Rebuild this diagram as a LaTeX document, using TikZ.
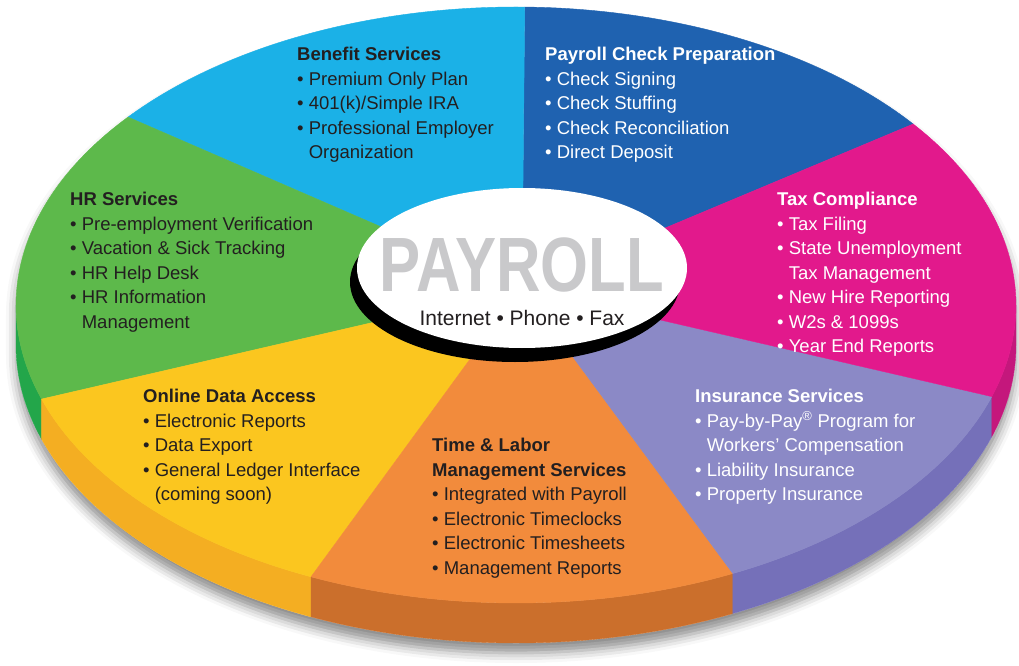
\documentclass[tikz,border=0pt]{standalone}
\usepackage{fontspec}
\setmainfont{Liberation Sans}
\newfontfamily\condfont[FakeStretch=0.8]{Liberation Sans}
\usetikzlibrary{shadows.blur}

% top faces
\definecolor{benefit}{HTML}{1BB1E7}
\definecolor{payroll}{HTML}{1F62B0}
\definecolor{tax}{HTML}{E2198C}
\definecolor{insurance}{HTML}{8B89C6}
\definecolor{timelabor}{HTML}{F28B3C}
\definecolor{online}{HTML}{FBC61F}
\definecolor{hr}{HTML}{5DB94B}
% rim
\definecolor{hrside}{HTML}{23A64A}
\definecolor{onlineside}{HTML}{F4AE22}
\definecolor{timeside}{HTML}{CB6F2C}
\definecolor{insside}{HTML}{7570B9}
\definecolor{taxside}{HTML}{C4177C}
\definecolor{ink}{HTML}{231F20}
\definecolor{logo}{HTML}{C9C9CB}

\newcommand{\itm}{\textbullet\ }
\newcommand{\indentitem}{\hphantom{\textbullet\ }}

\begin{document}
\begin{tikzpicture}
	[x=1pt,y=1pt,
	 every node/.style={inner sep=0pt,align=left,anchor=north west,
	   font=\fontsize{18.5}{24.5}\selectfont},
	 dark/.style={text=ink},
	 light/.style={text=white}]
	\useasboundingbox (0,0) rectangle (1019,665);
	% soft shadow under the whole disk
	\fill[white,blur shadow={shadow xshift=0pt,shadow yshift=-10pt,shadow blur radius=10pt,shadow opacity=45}]
	  ([shift={(516,360)}]0:500 and 298) arc[start angle=0,end angle=180,x radius=500,y radius=298]
	  -- ++(0,-40) arc[start angle=180,end angle=360,x radius=500,y radius=298] -- cycle;
	% rim
	\foreach \from/\to/\col in {180/198.4/hrside,198.4/245.8/onlineside,245.8/295.7/timeside,295.7/342.1/insside,342.1/360/taxside}
	\fill[\col,draw=\col,line width=0.4pt] ([shift={(516,360)}]\from:500 and 298) arc[start angle=\from,end angle=\to,x radius=500,y radius=298]
	  -- ++(0,-40) arc[start angle=\to,end angle=\from,x radius=500,y radius=298] -- cycle;
	% slices
	\foreach \from/\to/\col in {37.4/89/payroll,89/140.9/benefit,140.9/198.4/hr,198.4/245.8/online,245.8/295.7/timelabor,295.7/342.1/insurance,342.1/397.4/tax}
	\fill[\col,draw=\col,line width=0.4pt] (522,377) -- ([shift={(516,360)}]\from:500 and 298)
	  arc[start angle=\from,end angle=\to,x radius=500,y radius=298] -- cycle;
	% hub
	\fill[black] (515,383) ellipse[x radius=165,y radius=80];
	\fill[white] (522,397) ellipse[x radius=165,y radius=80];
	\node[anchor=center,text=logo] (logo) at (522,400) {\condfont\bfseries\fontsize{77}{77}\selectfont PAYROLL};
	\node[anchor=center,dark] (media) at (522,347) {\fontsize{21}{21}\selectfont Internet \textbullet{} Phone \textbullet{} Fax};
	% services
	\node[dark] (benefit) at (297,618) {\textbf{Benefit Services}\\ \itm Premium Only Plan\\ \itm 401(k)/Simple IRA\\ \itm Professional Employer\\ \indentitem Organization};
	\node[light] (payroll) at (545,618) {\textbf{Payroll Check Preparation}\\ \itm Check Signing\\ \itm Check Stuffing\\ \itm Check Reconciliation\\ \itm Direct Deposit};
	\node[light] (tax) at (777,473) {\textbf{Tax Compliance}\\ \itm Tax Filing\\ \itm State Unemployment\\ \indentitem Tax Management\\ \itm New Hire Reporting\\ \itm W2s \& 1099s\\ \itm Year End Reports};
	\node[dark] (hr) at (70,473) {\textbf{HR Services}\\ \itm Pre-employment Verification\\ \itm Vacation \& Sick Tracking\\ \itm HR Help Desk\\ \itm HR Information\\ \indentitem Management};
	\node[dark] (online) at (143,276) {\textbf{Online Data Access}\\ \itm Electronic Reports\\ \itm Data Export\\ \itm General Ledger Interface\\ \indentitem (coming soon)};
	\node[dark] (timelabor) at (432,227) {\textbf{Time \& Labor}\\ \textbf{Management Services}\\ \itm Integrated with Payroll\\ \itm Electronic Timeclocks\\ \itm Electronic Timesheets\\ \itm Management Reports};
	\node[light] (insurance) at (695,276) {\textbf{Insurance Services}\\ \itm Pay-by-Pay\textsuperscript{\textregistered} Program for\\ \indentitem Workers’ Compensation\\ \itm Liability Insurance\\ \itm Property Insurance};
\end{tikzpicture}
\end{document}
